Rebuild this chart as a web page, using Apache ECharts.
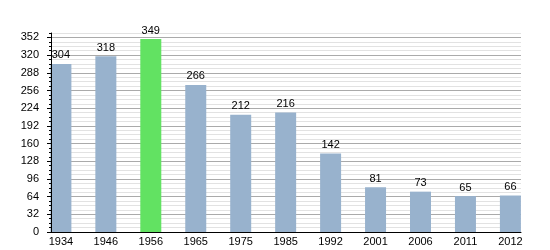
<!DOCTYPE html>
<html><head><meta charset="utf-8">
<script src="https://cdn.jsdelivr.net/npm/echarts@6/dist/echarts.min.js"></script>
<style>html,body{margin:0;padding:0;background:#fff}#c{width:550px;height:250px}</style>
</head><body><div id="c"></div>
<script>
const categories = ['1934','1946','1956','1965','1975','1985','1992','2001','2006','2011','2012'];
const values = [304, 318, 349, 266, 212, 216, 142, 81, 73, 65, 66];
const highlightCategory = '1956';
const yMax = 360, yLabelMax = 352, yMajor = 32, yMinor = 8;

const chart = echarts.init(document.getElementById('c'), null, {renderer:'canvas'});
const font = {fontFamily:'Liberation Sans, Arial, sans-serif', fontSize:11, color:'#000'};
const plotTop = 33, plotBottom = 18, plotH = 250 - plotTop - plotBottom;
const majorTop = plotTop + (yMax - yLabelMax) * plotH / yMax;

chart.setOption({
  animation:false,
  grid:[
    {left:51, right:29, top:plotTop, bottom:plotBottom},
    {left:51, right:29, top:majorTop, bottom:plotBottom},
    {left:60.9, right:550-510.4, top:plotTop, bottom:plotBottom}
  ],
  xAxis:[
    {gridIndex:0, type:'value', min:0, max:1, axisLine:{show:true, lineStyle:{color:'#000', width:1}}, axisTick:{show:false}, axisLabel:{show:false}, splitLine:{show:false}, z:5},
    {gridIndex:1, type:'value', min:0, max:1, show:false},
    {gridIndex:2, type:'category', data:categories, boundaryGap:false, axisLine:{show:false}, axisTick:{show:false},
     axisLabel:{...font, margin:4, interval:0}}
  ],
  yAxis:[
    {gridIndex:0, type:'value', min:0, max:yMax, interval:yMinor, axisLine:{show:false}, axisTick:{show:false}, axisLabel:{show:false}, splitLine:{show:true, lineStyle:{color:'#e2e2e2', width:1}}, z:1},
    {gridIndex:1, type:'value', min:0, max:yLabelMax, interval:yMajor, axisLine:{show:false}, axisTick:{show:true, length:4, lineStyle:{color:'#000'}}, axisLabel:{...font, margin:12}, splitLine:{show:true, lineStyle:{color:'#aaaaaa', width:1}}, z:2},
    {gridIndex:2, type:'value', min:0, max:yMax, show:false},
    {gridIndex:0, type:'value', position:'left', offset:0, min:0, max:yMax, interval:yMinor, axisLine:{show:true, onZero:false, lineStyle:{color:'#000'}}, axisTick:{show:true, length:2, lineStyle:{color:'#000'}}, axisLabel:{show:false}, splitLine:{show:false}, z:6}
  ],
  series:[{
    type:'bar', xAxisIndex:2, yAxisIndex:2, barWidth:21, z:3,
    data: values.map((v,i)=>({value:v, itemStyle:{color: categories[i]===highlightCategory ? '#62e262' : '#98b2cd'}})),
    label:{show:true, position:'top', distance:3, ...font}
  }]
});
</script></body></html>
